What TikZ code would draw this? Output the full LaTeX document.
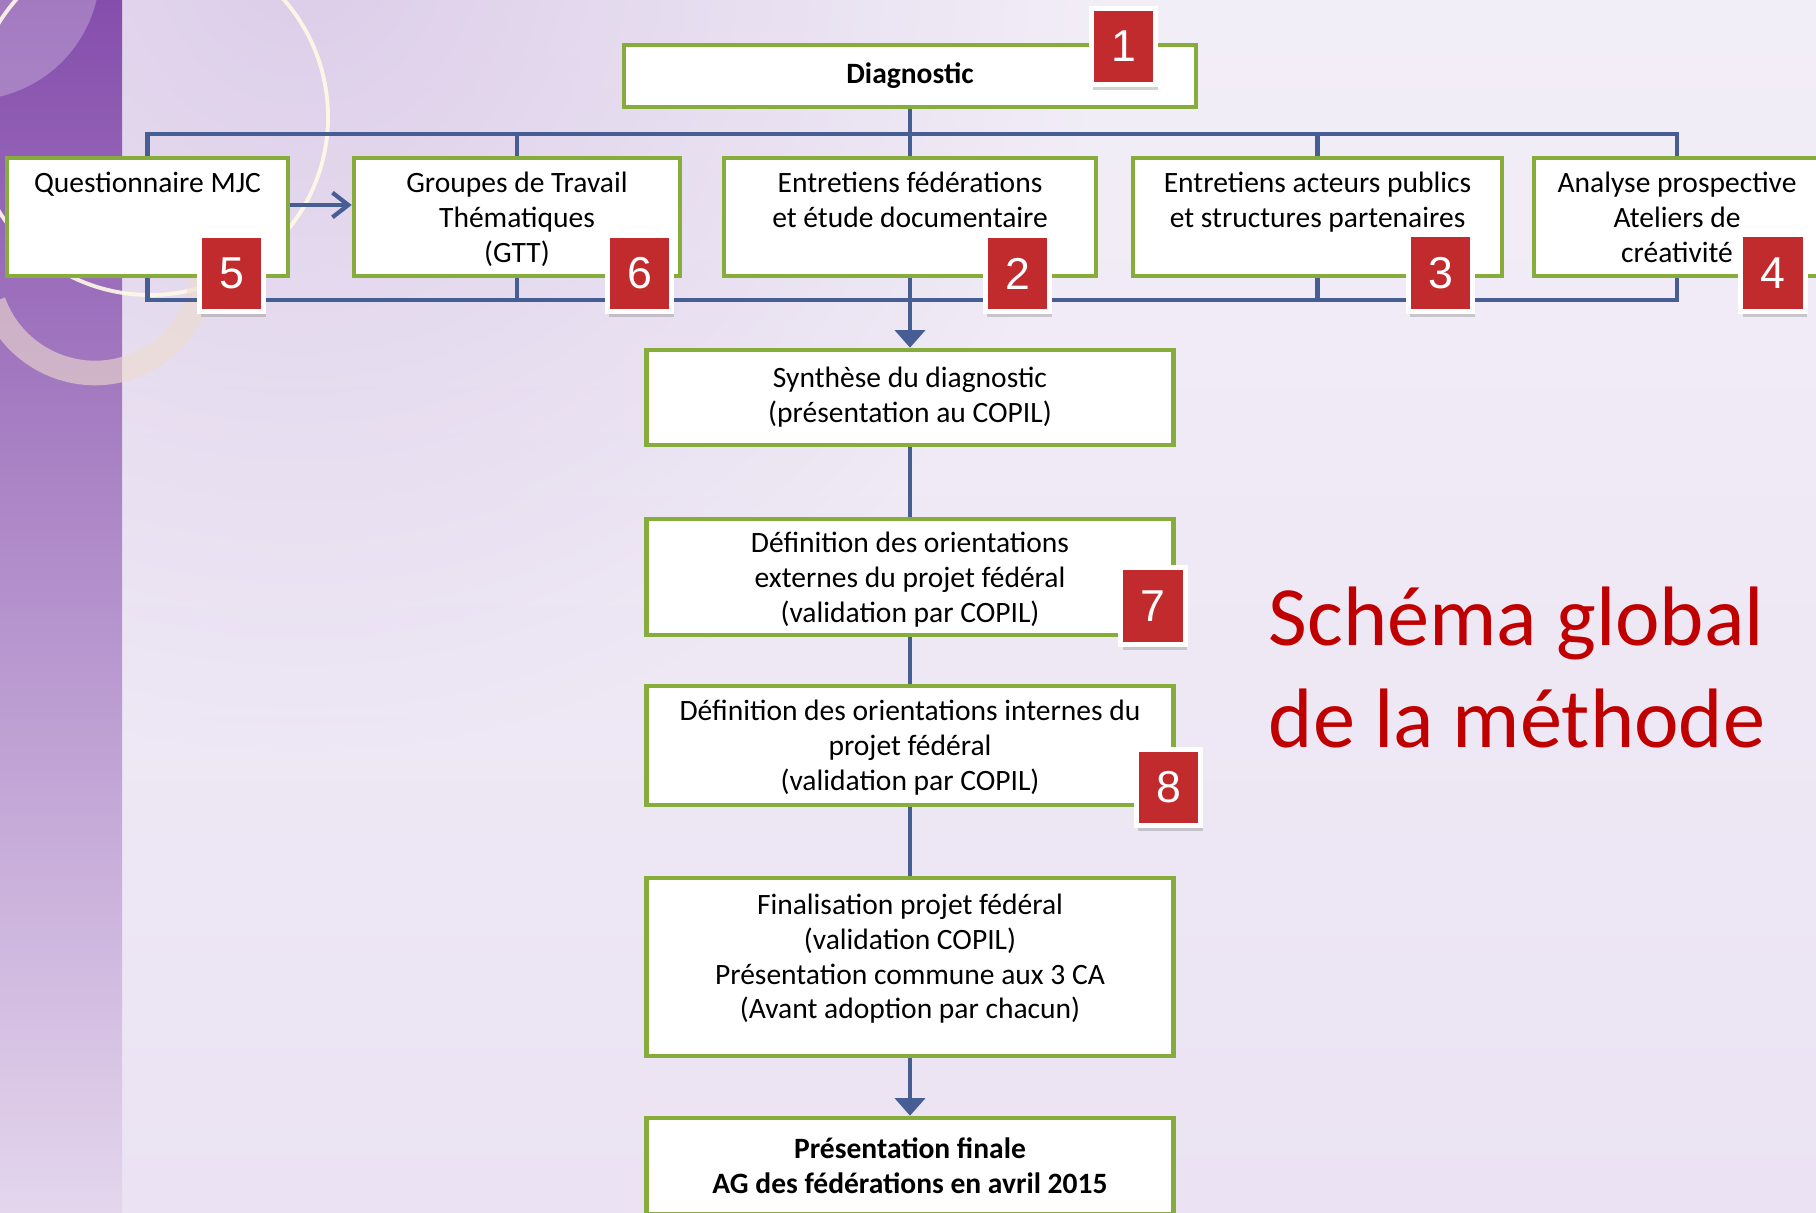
\documentclass[tikz,border=0pt]{standalone}
\usepackage{fontspec}
\setmainfont{Carlito}
\newfontfamily\chiffres{Liberation Sans}
\usepackage{tikz}
\usetikzlibrary{arrows.meta}
\usetikzlibrary{calc}
\usetikzlibrary{shadows,fadings}
\definecolor{vert}{RGB}{134,172,60}
\definecolor{bleu}{RGB}{71,94,148}
\definecolor{rougebadge}{RGB}{193,43,46}
\definecolor{rougetitre}{RGB}{192,0,0}
\definecolor{lavande}{RGB}{220,205,233}
\definecolor{fondhaut}{RGB}{242,238,247}
\definecolor{fondbas}{RGB}{235,227,243}
\definecolor{violethaut}{RGB}{133,78,172}
\definecolor{violetbas}{RGB}{228,214,237}
\definecolor{creme}{RGB}{255,250,230}
\definecolor{beige}{RGB}{238,220,206}
\tikzfading[name=halo, inner color=transparent!0, outer color=transparent!100]

\begin{document}
\begin{tikzpicture}[
        etape/.style={draw=vert, line width=1.3pt, fill=white, align=center, inner sep=0pt,
            font=\fontsize{8.4}{9.9}\selectfont},
        haut/.style={etape, text depth=0pt},
        badge/.style={draw=white, line width=1.3pt, fill=rougebadge, text=white, inner sep=0pt,
            minimum width=0.645cm, minimum height=0.765cm,
            font=\chiffres\fontsize{12.7}{14}\selectfont,
            drop shadow={shadow xshift=0.6pt, shadow yshift=-1.6pt, opacity=0.35}},
        lien/.style={draw=bleu, line width=1.2pt},
        fleche/.style={lien, -{Triangle[length=5pt,width=8.5pt]}},
        titre/.style={text=rougetitre, align=left, inner sep=0pt, font=\fontsize{24}{29}\selectfont}
    ]
            \useasboundingbox (0,0) rectangle (18.16,12.12);
            \clip (0,0) rectangle (18.16,12.12);

            % fond
            \shade[top color=fondhaut, middle color=white, bottom color=fondbas] (0,0) rectangle (18.16,12.12);
            \fill[lavande, path fading=halo] (3.0,12.6) circle (8);
            \shade[top color=violethaut, bottom color=violetbas] (0,0) rectangle (1.22,12.12);
            \fill[white, opacity=0.25] (-0.30,12.42) circle (1.30);
            \draw[creme, line width=1.1pt, opacity=0.9] (1.50,10.95) circle (1.78);
            \draw[beige, line width=7pt, opacity=0.6] (0.95,9.47) ++(200:1.08) arc (200:360:1.08);

            % etapes
            \draw (9.10,11.36) node[etape, minimum width=5.72cm, minimum height=0.62cm]  (diag) {\bfseries Diagnostic};
            \draw (1.475,9.95) node[haut, minimum width=2.81cm, minimum height=1.18cm]   (quest) {Questionnaire MJC\\\strut\\\strut};
            \draw (5.17,9.95) node[haut, minimum width=3.26cm, minimum height=1.18cm]    (gtt) {Groupes de Travail\\Thématiques\\(GTT)};
            \draw (9.10,9.95) node[haut, minimum width=3.72cm, minimum height=1.18cm]    (fed) {Entretiens fédérations\\et étude documentaire\\\strut};
            \draw (13.175,9.95) node[haut, minimum width=3.69cm, minimum height=1.18cm]  (act) {Entretiens acteurs publics\\et structures partenaires\\\strut};
            \draw (16.77,9.95) node[haut, minimum width=2.86cm, minimum height=1.18cm]   (ana) {Analyse prospective\\Ateliers de\\créativité};
            \draw (9.10,8.145) node[etape, minimum width=5.27cm, minimum height=0.95cm]  (synth) {Synthèse du diagnostic\\(présentation au COPIL)};
            \draw (9.10,6.35) node[haut, minimum width=5.27cm, minimum height=1.16cm]    (ext) {Définition des orientations\\externes du projet fédéral\\(validation par COPIL)};
            \draw (9.10,4.665) node[haut, minimum width=5.27cm, minimum height=1.19cm]   (int) {Définition des orientations internes du\\projet fédéral\\(validation par COPIL)};
            \draw (9.10,2.45) node[etape, text depth=6pt, minimum width=5.27cm, minimum height=1.78cm] (fin) {Finalisation projet fédéral\\(validation COPIL)\\Présentation commune aux 3 CA\\(Avant adoption par chacun)};
            \draw (9.10,0.46) node[etape, minimum width=5.27cm, minimum height=0.96cm]   (finale) {\bfseries Présentation finale\\\bfseries AG des fédérations en avril 2015};

            % liens
            \coordinate (bushaut) at (9.10,10.78);
            \coordinate (busbas) at (9.10,9.12);
            \draw[lien] (diag.south) -- (bushaut);
            \draw[lien] (quest.north) -- (quest.north |- bushaut) -- (ana.north |- bushaut) -- (ana.north);
            \draw[lien] (quest.south) -- (quest.south |- busbas) -- (ana.south |- busbas) -- (ana.south);
            \foreach \n in {gtt,fed,act} {
                \draw[lien] (\n.north) -- (\n.north |- bushaut);
                \draw[lien] (\n.south) -- (\n.south |- busbas);
            }
            \draw[lien, -{Straight Barb[length=4.5pt,width=7pt]}] ([yshift=0.12cm]quest.east) -- ([yshift=0.12cm]gtt.west);
            \draw[fleche] (busbas) -- (synth.north);
            \draw[lien] (synth.south) -- (ext.north);
            \draw[lien] (ext.south) -- (int.north);
            \draw[lien] (int.south) -- (fin.north);
            \draw[fleche] (fin.south) -- (finale.north);

            % numeros
            \draw (11.235,11.655) node[badge] (b1) {1};
            \draw (10.175,9.385) node[badge]  (b2) {2};
            \draw (14.405,9.39) node[badge]   (b3) {3};
            \draw (17.73,9.39) node[badge]    (b4) {4};
            \draw (2.315,9.385) node[badge]   (b5) {5};
            \draw (6.395,9.385) node[badge]   (b6) {6};
            \draw (11.53,6.06) node[badge]    (b7) {7};
            \draw (11.685,4.245) node[badge]  (b8) {8};

            \draw (12.68,4.65) node[titre, anchor=base west] (titre) {Schéma global\\de la méthode};

            \end{tikzpicture}
\end{document}
